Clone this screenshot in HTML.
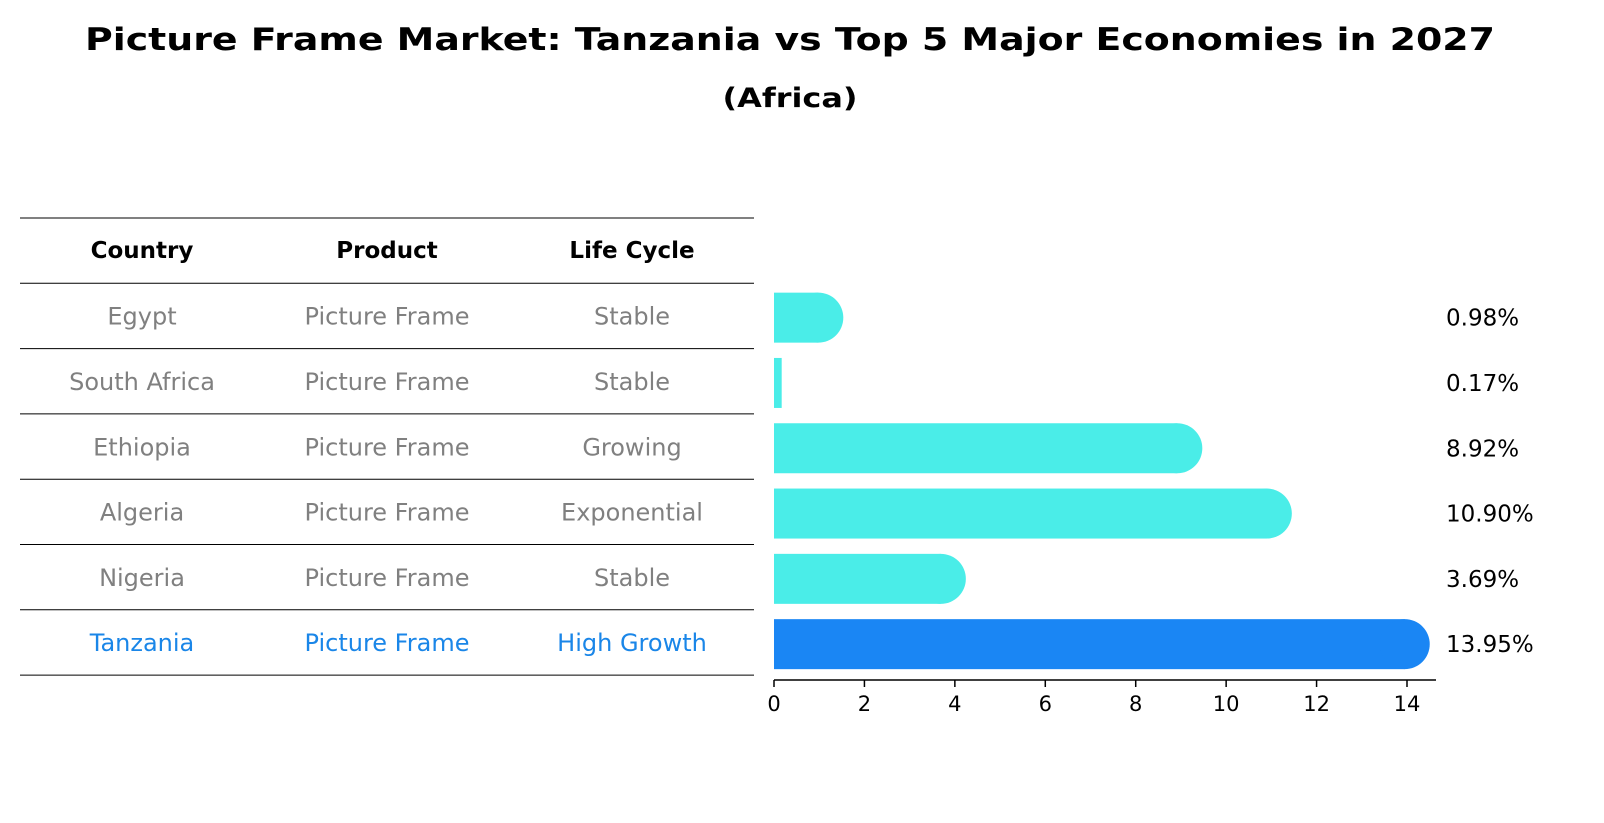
<!DOCTYPE html>
<html><head><meta charset="utf-8">
<style>
body{margin:0;background:#fff;}
svg{display:block;font-family:"DejaVu Sans","Liberation Sans",sans-serif;}
</style></head>
<body>
<svg id="chart" width="1604" height="823" viewBox="0 0 1604 823">
<text x="790" y="50" text-anchor="middle" font-size="31" font-weight="bold" textLength="1410" lengthAdjust="spacingAndGlyphs">Picture Frame Market: Tanzania vs Top 5 Major Economies in 2027</text>
<text x="790" y="107" text-anchor="middle" font-size="27" font-weight="bold" textLength="135" lengthAdjust="spacingAndGlyphs">(Africa)</text>
<g id="table"></g>
<g id="bars"></g>
</svg>
<script>
const countries=["Egypt","South Africa","Ethiopia","Algeria","Nigeria","Tanzania"];
const products=["Picture Frame","Picture Frame","Picture Frame","Picture Frame","Picture Frame","Picture Frame"];
const lifeCycles=["Stable","Stable","Growing","Exponential","Stable","High Growth"];
const growth=[0.98,0.17,8.92,10.90,3.69,13.95];
const xTicks=[0,2,4,6,8,10,12,14];

const NS="http://www.w3.org/2000/svg";
function mk(tag,attrs,parent){const e=document.createElementNS(NS,tag);for(const k in attrs)e.setAttribute(k,attrs[k]);parent.appendChild(e);return e;}
const table=document.getElementById('table');
const bars=document.getElementById('bars');
const x0=774, pxPer=(1407-774)/14;
function xs(v){return x0+v*pxPer;}
const rowTop=283, rowH=65.3;
function rowY(i){return rowTop+rowH*i+rowH/2;}

for(let i=0;i<=7;i++){
  const y=218+rowH*i;
  const l=mk('line',{x1:20,x2:754,y1:y,y2:y,stroke:'#000','stroke-width':1},table);
  
  
}
const colX=[142,387,632];
const heads=["Country","Product","Life Cycle"];
heads.forEach((h,j)=>{
  const t=mk('text',{x:colX[j],y:258,'text-anchor':'middle','font-size':23,'font-weight':'bold'},table);
  t.textContent=h;
  
  
});
countries.forEach((c,i)=>{
  const col=i===countries.length-1?'#1a86e8':'#808080';
  [c,products[i],lifeCycles[i]].forEach((v,j)=>{
    const t=mk('text',{x:colX[j],y:rowY(i)+9,'text-anchor':'middle','font-size':24,fill:col},table);
    t.textContent=v;
    
    
  });
});

const barH=50;
growth.forEach((v,i)=>{
  const last=i===growth.length-1;
  const col=last?'#1a86f4':'#4aede8';
  const cy=rowY(i)+2;
  const g=mk('g',{},bars);
  
  
  const xe=xs(v);
  mk('rect',{x:x0,y:cy-barH/2,width:Math.max(xe-x0,1),height:barH,fill:col},g);
  if(v>0.5) mk('circle',{cx:xe,cy:cy,r:barH/2,fill:col},g);
  const t=mk('text',{x:1446,y:cy+8,'font-size':23},bars);
  t.textContent=v.toFixed(2)+'%';
  
  
});

const ax=mk('line',{x1:x0,x2:1436,y1:680,y2:680,stroke:'#000','stroke-width':1.5},bars);


xTicks.forEach(v=>{
  const tk=mk('line',{x1:xs(v),x2:xs(v),y1:680,y2:687,stroke:'#000','stroke-width':1.5},bars);
  
  
  const t=mk('text',{x:xs(v),y:711,'text-anchor':'middle','font-size':21},bars);
  t.textContent=v;
  
  
});
</script>
</body></html>
